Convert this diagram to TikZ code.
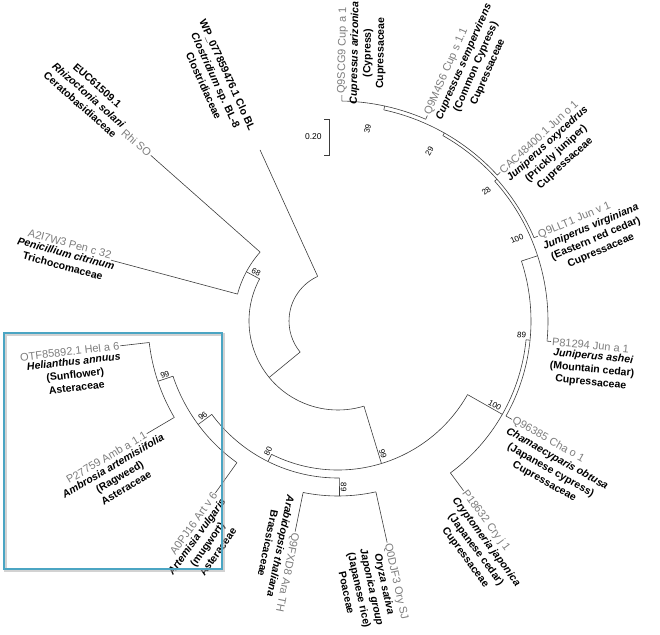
\documentclass[tikz,border=0pt]{standalone}
\usepackage{fontspec}
\setmainfont{Liberation Sans}
\usetikzlibrary{positioning,calc}
\definecolor{accgray}{RGB}{125,125,125}
\definecolor{linegray}{RGB}{60,60,60}
\definecolor{boxteal}{RGB}{75,165,195}

% radial branch: name, angle, parent radius, own radius
\newcommand{\clade}[4]{%
  \coordinate (#1-b) at ([shift={(#2:#3)}]ctr);
  \coordinate (#1) at ([shift={(#2:#4)}]ctr);
  \draw[branch] (#1-b) -- (#1);}
% node arc: start angle, end angle, radius
\newcommand{\cladearc}[3]{%
  \draw[branch] ([shift={(#1:#3)}]ctr) arc[start angle=#1, end angle=#2, radius=#3];}
% leaf labels, right and left half; optional shift of the bold block
\newcommand{\leafR}[5][]{%
  \node[accession, anchor=west, rotate=#3] (#2-acc) at (#2) {#4};
  \node[species, anchor=north west, rotate=#3, #1] (#2-lab) at (#2-acc.south west) {#5};}
\newcommand{\leafL}[5][]{%
  \node[accession, anchor=east, rotate=#3+180] (#2-acc) at (#2) {#4};
  \node[species, anchor=north east, rotate=#3+180, #1] (#2-lab) at (#2-acc.south east) {#5};}
% bootstrap values
\newcommand{\bootR}[4]{%
  \node[boot, anchor=south east, rotate=#2] (#1) at ([shift={(#2:#3)}]ctr) {#4};}
\newcommand{\bootL}[4]{%
  \node[boot, anchor=south west, rotate=#2+180] (#1) at ([shift={(#2:#3)}]ctr) {#4};}

\begin{document}
\begin{tikzpicture}[x=1pt, y=1pt,
    branch/.style={draw=linegray, line width=0.6pt},
    accession/.style={text=accgray, font=\fontsize{11}{12}\selectfont, inner sep=1pt},
    species/.style={font=\fontsize{10.5}{13}\selectfont\bfseries, align=center, inner sep=1pt},
    boot/.style={font=\fontsize{8}{9}\selectfont, inner sep=1.2pt},
    hlbox/.style={draw=boxteal, line width=2.2pt},
    hlshadow/.style={draw=black!35, line width=2.4pt, opacity=0.5}
]
\useasboundingbox (0,0) rectangle (660,634);
\coordinate (ctr) at (338,313);

% root, Clostridium and fungi
\cladearc{114.5}{219.35}{49}
\clade{clos}{114.5}{49}{188}
\clade{nA}{219.35}{49}{89}
\cladearc{151.75}{286.95}{89}
\clade{nB}{151.75}{89}{104}
\cladearc{138.5}{165}{104}
\clade{rhis}{138.5}{104}{250}
\clade{penc}{165}{104}{235}

% plants
\clade{nC}{286.95}{89}{149}
\cladearc{243.5}{330.4}{149}
\clade{nD}{243.5}{149}{157}
\cladearc{216.5}{270.5}{157}
\clade{n96}{216.5}{157}{174}
\cladearc{198.5}{234.5}{174}
\clade{artv}{234.5}{174}{211}
\clade{n99}{198.5}{174}{190}
\cladearc{186.5}{210.5}{190}
\clade{hela}{186.5}{190}{219}
\clade{amba}{210.5}{190}{222}
\clade{n68}{270.5}{157}{175}
\cladearc{258.5}{282.5}{175}
\clade{arat}{258.5}{175}{215}
\clade{orys}{282.5}{175}{227}

% Cupressaceae
\clade{n6}{-29.6}{149}{189}
\cladearc{-53.5}{-5.7}{189}
\clade{cryj}{-53.5}{189}{211}
\clade{n5}{-5.7}{189}{193}
\cladearc{-29.5}{18.1}{193}
\clade{chao}{-29.5}{193}{200}
\clade{n4}{18.1}{193}{210}
\cladearc{-5.5}{41.75}{210}
\clade{juna}{-5.5}{210}{214}
\clade{n3}{41.75}{210}{213}
\cladearc{23}{60.5}{213}
\clade{junv}{23}{213}{217}
\clade{n2}{60.5}{213}{216}
\cladearc{42.5}{77.75}{216}
\clade{juno}{42.5}{216}{220}
\clade{n1}{77.75}{216}{220}
\cladearc{66.5}{89}{220}
\clade{cups}{66.5}{220}{224}
\clade{cupa}{89}{220}{226}

% bootstrap values
\bootR{bs-n1}{80}{200}{39}
\bootR{bs-n2}{60.5}{199}{29}
\bootR{bs-n3}{40}{203}{28}
\bootR{bs-n4}{23.5}{205}{100}
\bootR{bs-n5}{-5.7}{190}{89}
\bootR{bs-n6}{-29.6}{186}{100}
\bootR{bs-c}{-73.05}{146}{99}
\bootR{bs-n68}{-89.5}{172}{89}
\bootL{bs-d}{243.5}{154}{80}
\bootL{bs-n96}{216.5}{171}{96}
\bootL{bs-n99}{198.5}{187}{99}
\bootL{bs-b}{151.75}{101}{68}

% leaf labels
\leafR[xshift=-10pt]{cupa}{89}{Q9SCG9 Cup a 1}{{\itshape Cupressus arizonica}\\(Cypress)\\Cupressaceae}
\leafR{cups}{66.5}{Q9M4S6 Cup s 1.1}{{\itshape Cupressus sempervirens}\\(Common Cypress)\\Cupressaceae}
\leafR{juno}{42.5}{CAC48400.1 Jun o 1}{{\itshape Juniperus oxycedrus}\\(Prickly juniper)\\Cupressaceae}
\leafR{junv}{23}{Q9LLT1 Jun v 1}{{\itshape Juniperus virginiana}\\(Eastern red cedar)\\Cupressaceae}
\leafR{juna}{-5.5}{P81294 Jun a 1}{{\itshape Juniperus ashei}\\(Mountain cedar)\\Cupressaceae}
\leafR{chao}{-29.5}{Q96385 Cha o 1}{{\itshape Chamaecyparis obtusa}\\(Japanese cypress)\\Cupressaceae}
\leafR{cryj}{-53.5}{P18632 Cry j 1}{{\itshape Cryptomeria japonica}\\(Japanese cedar)\\Cupressaceae}
\leafR{orys}{-77.5}{Q0DJF3 Ory SJ}{{\itshape Oryza sativa}\\{\itshape Japonica group}\\(Japanese rice)\\Poaceae}
\leafR[xshift=-36pt]{arat}{-101.5}{Q9FXD8 Ara TH}{{\itshape Arabidopsis thaliana}\\Brassicaceae}
\leafL{artv}{234.5}{A0PJ16 Art v 6}{{\itshape Artemisia vulgaris}\\(mugwort)\\Asteraceae}
\leafL[xshift=14pt]{amba}{210.5}{P27759 Amb a 1.1}{{\itshape Ambrosia artemisiifolia}\\(Ragweed)\\Asteraceae}
\leafL{hela}{186.5}{OTF85892.1 Hel a 6}{{\itshape Helianthus annuus}\\(Sunflower)\\Asteraceae}
\node[accession, anchor=south east, rotate=345] (penc-acc) at (penc) {A2I7W3 Pen c 32};
\node[species, anchor=north east, rotate=345, xshift=6pt] (penc-lab) at (penc-acc.south east)
  {{\itshape Penicillium citrinum}\\Trichocomaceae};
\node[accession, anchor=east, rotate=318.5] (rhis-acc) at (rhis) {Rhi SO};
\node[species, anchor=east, rotate=318.5, xshift=-1pt, yshift=4pt] (rhis-lab) at (rhis-acc.west)
  {EUC61509.1\\{\itshape Rhizoctonia solani}\\Ceratobasidiaceae};
\node[species, anchor=north east, rotate=294.5, xshift=-20pt, yshift=6.5pt] (clos-lab) at (clos)
  {WP\_077859476.1 Clo BL\\{\itshape Clostridium} sp. BL-8\\Clostridiaceae};

% scale bar
\coordinate (sbtop) at (329,515);
\coordinate (sbbot) at (329,479);
\draw[branch] ([xshift=-5pt]sbtop) -- (sbtop) -- (sbbot) -- ([xshift=-5pt]sbbot);
\node[boot, anchor=east, font=\fontsize{8.5}{10}\selectfont] (sblab) at (323,497) {0.20};

% highlight box round Asteraceae
\coordinate (boxnw) at (4,301);
\coordinate (boxse) at (222,65);
\draw[hlshadow] ([shift={(1.5,-1.5)}]boxnw) rectangle ([shift={(1.5,-1.5)}]boxse);
\draw[hlbox] (boxnw) rectangle (boxse);
\end{tikzpicture}
\end{document}
